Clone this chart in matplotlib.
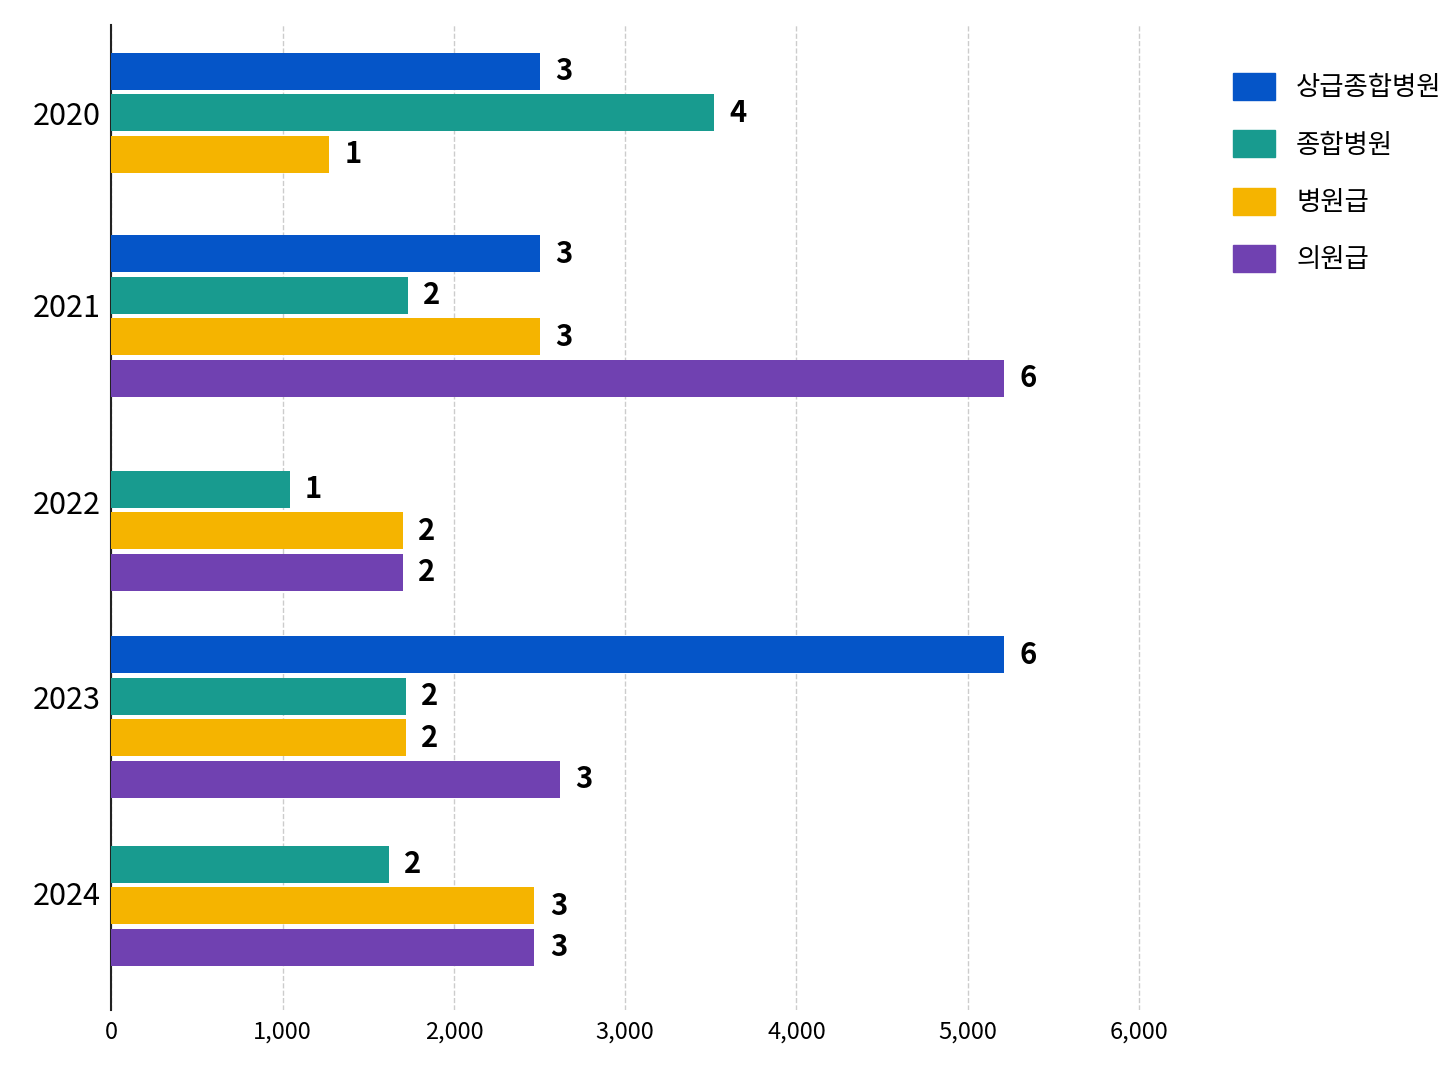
import numpy as np
import matplotlib.pyplot as plt
from matplotlib.patches import Patch

plt.rcParams['font.family'] = ['Noto Sans CJK KR', 'DejaVu Sans']

years = ['2020', '2021', '2022', '2023', '2024']
series = ['상급종합병원', '종합병원', '병원급', '의원급']
colors = ['#0555C8', '#189B8F', '#F5B400', '#7041B1']
# bar lengths per year (None = no bar), and count labels
lengths = [
    [2500, 3520, 1270, None],
    [2500, 1730, 2500, 5210],
    [None, 1040, 1700, 1700],
    [5210, 1720, 1720, 2620],
    [None, 1620, 2470, 2470],
]
counts = [
    [3, 4, 1, None],
    [3, 2, 3, 6],
    [None, 1, 2, 2],
    [6, 2, 2, 3],
    [None, 2, 3, 3],
]

# layout (pixel-like units, y grows downward)
group_centers = [113, 316, 531, 717, 906]
tick_pos = [113, 305, 502, 697, 893]
step = 41.5
bar_h = 37

fig = plt.figure(figsize=(14.48, 10.86), dpi=100)
ax = fig.add_axes([0.077, 0.07, 0.745, 0.907])

for gi, (vals, cnts) in enumerate(zip(lengths, counts)):
    present = [k for k, v in enumerate(vals) if v is not None]
    n = len(present)
    for j, k in enumerate(present):
        y = group_centers[gi] + (j - (n - 1) / 2) * step
        ax.barh(y, vals[k], height=bar_h, color=colors[k], zorder=3)
        ax.text(vals[k] + 90, y, str(cnts[k]), va='center', ha='left',
                fontsize=21, fontweight='bold', zorder=4)

ax.set_ylim(1010, 25)
ax.set_xlim(0, 6300)
ax.set_yticks(tick_pos)
ax.set_yticklabels(years, fontsize=22)
ax.set_xticks(np.arange(0, 7000, 1000))
ax.set_xticklabels([f'{v:,}' for v in range(0, 7000, 1000)], fontsize=17)
ax.tick_params(length=0, pad=8)
ax.xaxis.grid(True, ls='--', color='#cccccc', lw=1, zorder=0)
for s in ['top', 'right', 'bottom']:
    ax.spines[s].set_visible(False)
ax.spines['left'].set_color('#222222')
ax.spines['left'].set_linewidth(1.5)

handles = [Patch(color=c, label=s) for c, s in zip(colors, series)]
fig.legend(handles=handles, loc='upper left', bbox_to_anchor=(0.835, 0.955),
           frameon=False, fontsize=19, handlelength=1.6, handleheight=1.2,
           labelspacing=1.1)

fig.savefig('out.png', dpi=100)
